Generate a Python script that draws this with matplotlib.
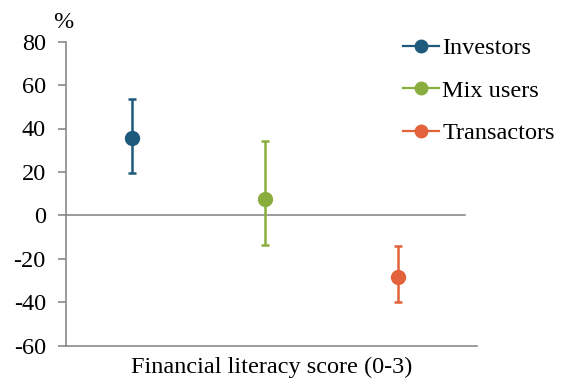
import matplotlib
matplotlib.use("Agg")
import matplotlib.pyplot as plt
from matplotlib.lines import Line2D

plt.rcParams['font.family'] = ['Liberation Serif', 'DejaVu Serif']

# Data: coefficient of financial literacy score by user group (%)
groups = ["Investors", "Mix users", "Transactors"]
estimates = [35.7, 7.4, -28.5]
upper = [53.8, 34.1, -14.2]
lower = [19.5, -13.8, -40.0]
colors = ["#1d5a7b", "#8aae3e", "#e2633b"]
y_ticks = [80, 60, 40, 20, 0, -20, -40, -60]

W, H = 561, 379
fig = plt.figure(figsize=(W / 100, H / 100), dpi=100)
ax = fig.add_axes([66 / W, 1 - 345.5 / H, (477 - 66) / W, (345.5 - 41.7) / H])

axis_grey = "#808080"
positions = [1, 2, 3]
for x, est, hi, lo, c in zip(positions, estimates, upper, lower, colors):
    ax.errorbar([x], [est], yerr=[[est - lo], [hi - est]], fmt="o", color=c,
                ecolor=c, elinewidth=1.8, capsize=3.2, capthick=1.8,
                markersize=10, zorder=3)

ax.set_xlim(0.504, 3.594)
ax.set_ylim(-60, 80)
ax.set_yticks(y_ticks)
ax.set_yticklabels([str(t) for t in y_ticks], fontsize=17.5)
ax.set_xticks([])
ax.axhline(0, xmin=0, xmax=(465 - 66) / (477 - 66), color=axis_grey, lw=1.1, zorder=1)

for side in ["top", "right"]:
    ax.spines[side].set_visible(False)
for side in ["left", "bottom"]:
    ax.spines[side].set_color(axis_grey)
    ax.spines[side].set_linewidth(1.1)
ax.tick_params(axis="y", direction="out", length=5.5, width=1.1, color=axis_grey, pad=9)

ax.set_xlabel("Financial literacy score (0-3)", fontsize=17.5, labelpad=8)
fig.text(63 / W, 1 - 22 / H, "%", fontsize=17.5, ha="center", va="center")

handles = [Line2D([0], [0], color=c, lw=1.6, marker="o", markersize=9) for c in colors]
fig.legend(handles, groups, loc="upper left", bbox_to_anchor=(403 / W, 1 - 37 / H),
           frameon=False, fontsize=17.5, handlelength=1.5, handletextpad=0.12,
           labelspacing=0.85, borderpad=0, borderaxespad=0)

fig.savefig("out.png", dpi=100)
